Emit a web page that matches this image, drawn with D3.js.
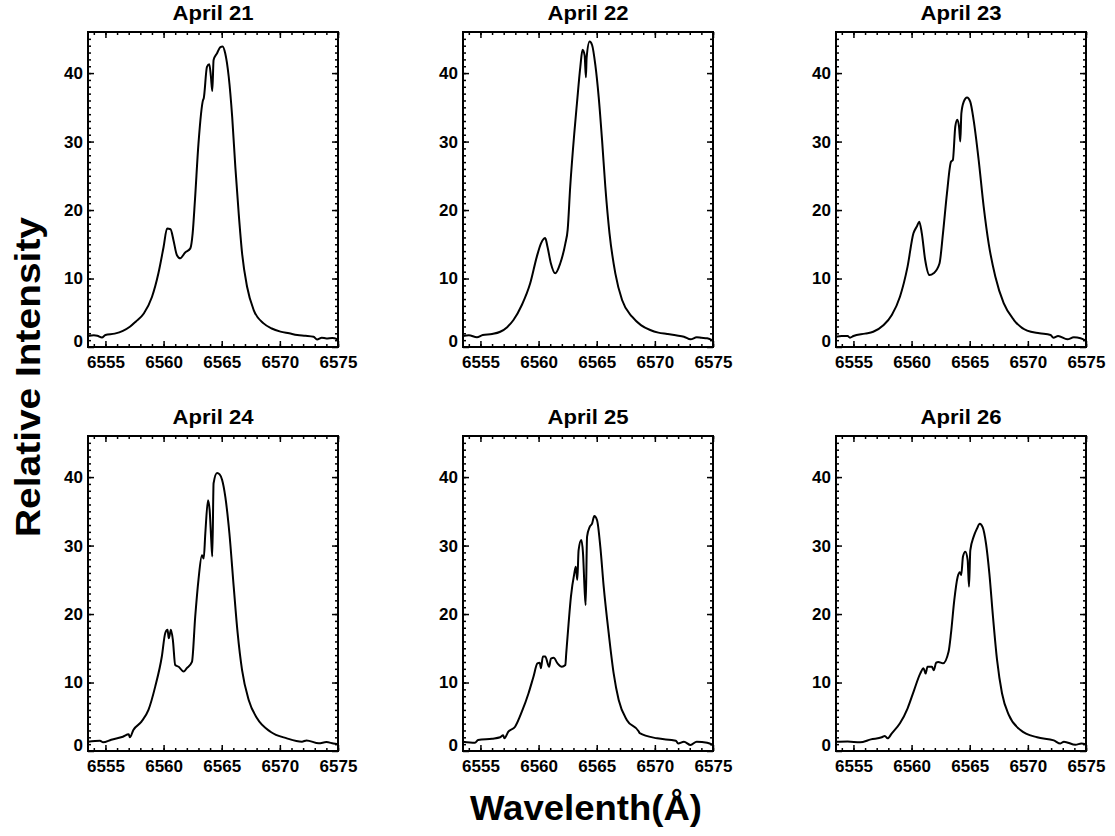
<!DOCTYPE html>
<html>
<head>
<meta charset="utf-8">
<script src="https://cdn.jsdelivr.net/npm/d3@7"></script>
<style>
  body { margin: 0; background: #fff; }
  svg text { font-family: "Liberation Sans", Arial, sans-serif; font-weight: bold; fill: #000; }
</style>
</head>
<body>
<div id="chart"></div>
<script>
// H-alpha profiles, one [wavelength, intensity] list per night
var apr21 = [[6553.5,1.6],[6554.0,1.7],[6554.3,1.65],[6554.7,1.4],[6555.0,1.75],[6555.8,1.95],[6556.5,2.35],
  [6557.1,2.95],[6557.6,3.7],[6558.3,4.9],[6559.0,7.3],[6559.56,10.8],[6560.0,14.6],[6560.3,17.3],[6560.6,17.2],
  [6560.85,15.6],[6561.15,13.4],[6561.43,12.95],[6561.86,13.8],[6562.3,14.4],[6562.5,16.6],[6562.7,21.5],
  [6563.0,29.7],[6563.4,36.1],[6563.45,36.3],[6563.73,40.9],[6563.93,41.3],[6564.07,39.5],[6564.19,37.4],
  [6564.3,41.9],[6564.6,42.9],[6564.88,43.8],[6565.08,43.9],[6565.3,42.9],[6565.6,39.5],[6565.9,33.6],
  [6566.17,26.3],[6566.46,19.5],[6566.75,13.7],[6567.18,8.8],[6567.75,5.4],[6568.6,3.45],[6569.3,2.7],
  [6570.05,2.25],[6570.8,2.0],[6571.5,1.75],[6572.2,1.65],[6572.9,1.5],[6573.2,1.1],[6573.6,1.35],
  [6574.0,1.25],[6574.5,1.3],[6575.0,1.1]];

var apr22 = [[6553.5,1.6],[6554.0,1.7],[6554.7,1.42],[6555.2,1.75],[6556.0,1.9],[6556.7,2.23],[6557.3,2.9],
  [6557.84,3.94],[6558.56,6.13],[6559.28,9.3],[6559.85,13.2],[6560.2,15.1],[6560.45,15.8],[6560.57,15.9],
  [6560.77,14.6],[6561.06,12.2],[6561.43,10.76],[6561.86,12.2],[6562.3,15.1],[6562.5,17.1],[6562.72,23.4],
  [6563.07,31.2],[6563.3,35.6],[6563.59,40.9],[6563.78,43.4],[6563.96,42.6],[6564.07,39.4],[6564.13,42.2],
  [6564.39,44.6],[6564.6,44.1],[6564.88,41.2],[6565.17,36.5],[6565.46,30.2],[6565.74,23.4],[6566.1,16.6],
  [6566.6,10.76],[6567.18,6.86],[6568.04,4.42],[6568.8,3.2],[6569.6,2.48],[6570.3,2.1],[6571.06,1.9],
  [6571.8,1.7],[6572.5,1.5],[6573.07,1.12],[6573.6,1.42],[6574.0,1.35],[6574.5,1.27],[6575.0,0.92]];

var apr23 = [[6553.5,1.5],[6554.0,1.6],[6554.5,1.6],[6554.7,1.36],[6555.0,1.6],[6556.0,1.95],[6556.7,2.23],
  [6557.6,3.2],[6558.3,4.67],[6559.0,7.34],[6559.65,11.7],[6560.16,16.6],[6560.45,17.6],[6560.66,18.3],
  [6560.88,16.6],[6561.17,12.7],[6561.54,10.5],[6561.89,10.76],[6562.4,12.2],[6562.7,16.6],[6563.04,22.4],
  [6563.39,27.05],[6563.55,27.3],[6563.76,32.2],[6563.93,33.2],[6564.08,32.2],[6564.19,30.0],[6564.28,34.1],
  [6564.48,35.8],[6564.77,36.45],[6565.05,35.8],[6565.34,33.1],[6565.77,27.3],[6566.2,20.5],[6566.63,15.1],
  [6567.2,10.3],[6567.92,6.4],[6568.8,3.94],[6569.94,2.38],[6571.0,2.0],[6571.95,1.75],[6572.2,1.36],
  [6572.6,1.6],[6573.4,1.12],[6573.95,1.42],[6574.53,1.27],[6575.0,0.92]];

var apr24 = [[6553.5,1.36],[6554.53,1.5],[6554.8,1.26],[6555.5,1.65],[6556.5,2.09],[6557.0,2.43],[6557.1,2.0],
  [6557.4,3.07],[6558.1,4.28],[6558.7,6.0],[6559.28,9.4],[6559.85,13.8],[6560.14,17.2],[6560.34,17.7],
  [6560.45,16.45],[6560.63,17.7],[6560.8,16.2],[6561.0,12.55],[6561.3,12.3],[6561.72,11.6],[6562.0,12.1],
  [6562.44,13.0],[6562.72,19.6],[6563.0,25.0],[6563.3,28.6],[6563.45,28.1],[6563.59,31.8],[6563.82,36.6],
  [6563.96,35.2],[6564.1,30.8],[6564.19,28.4],[6564.3,39.1],[6564.6,40.6],[6564.82,40.4],[6565.03,39.6],
  [6565.31,37.1],[6565.66,31.8],[6566.03,24.0],[6566.37,17.2],[6566.75,11.8],[6567.32,7.45],[6568.04,4.77],
  [6569.19,2.82],[6570.6,1.85],[6571.9,1.36],[6572.3,1.55],[6573.35,1.12],[6574.0,1.3],[6574.6,1.1],[6575.0,1.0]];

var apr25 = [[6553.5,1.36],[6554.53,1.2],[6554.8,1.6],[6556.0,1.8],[6556.7,2.0],[6556.95,2.3],[6557.06,1.85],
  [6557.4,2.82],[6557.98,3.55],[6558.56,5.74],[6559.13,8.4],[6559.56,10.85],[6559.9,12.8],[6560.1,12.9],
  [6560.2,12.1],[6560.37,13.8],[6560.57,13.8],[6560.91,12.3],[6561.06,13.5],[6561.3,13.6],[6561.63,12.8],
  [6562.0,12.3],[6562.3,12.55],[6562.38,14.3],[6562.58,18.6],[6562.78,22.5],[6563.07,25.9],[6563.2,26.9],
  [6563.33,25.0],[6563.44,29.3],[6563.67,30.8],[6563.82,28.9],[6563.96,23.5],[6564.05,21.3],[6564.17,31.3],
  [6564.39,32.7],[6564.6,33.2],[6564.79,34.3],[6565.03,33.7],[6565.31,29.8],[6565.6,24.0],[6566.03,17.2],
  [6566.46,11.3],[6566.89,7.45],[6567.6,4.5],[6568.6,2.9],[6568.7,2.6],[6570.2,1.85],[6571.8,1.5],
  [6572.0,1.1],[6572.5,1.36],[6573.07,0.88],[6573.6,1.36],[6574.5,1.2],[6575.0,0.88]];

var apr26 = [[6553.5,1.36],[6554.5,1.4],[6555.57,1.26],[6556.5,1.7],[6557.44,2.0],[6557.7,2.2],[6557.94,1.85],
  [6558.3,2.58],[6559.0,4.04],[6559.65,6.2],[6560.22,8.9],[6560.74,11.3],[6561.03,12.1],[6561.2,11.3],
  [6561.37,12.3],[6561.75,12.3],[6561.9,11.8],[6562.12,12.9],[6562.3,13.0],[6562.7,12.8],[6563.18,14.5],
  [6563.39,17.2],[6563.67,22.0],[6563.96,25.4],[6564.15,26.1],[6564.27,25.7],[6564.42,28.4],[6564.62,29.1],
  [6564.82,27.9],[6564.94,24.0],[6565.05,29.3],[6565.34,31.3],[6565.63,32.5],[6565.86,33.2],[6566.11,32.7],
  [6566.4,30.3],[6566.69,25.9],[6567.0,19.6],[6567.35,13.3],[6567.78,8.4],[6568.36,5.26],[6569.36,3.07],
  [6570.8,2.0],[6572.23,1.55],[6572.8,1.1],[6573.1,1.36],[6574.1,0.9],[6574.6,1.1],[6575.0,1.0]];

var titles = ["April 21", "April 22", "April 23", "April 24", "April 25", "April 26"];
var series = [apr21, apr22, apr23, apr24, apr25, apr26];
var xMajor = [6555, 6560, 6565, 6570, 6575];
var yMajor = [0, 10, 20, 30, 40];

var width = 1115, height = 836;
var colLeft = [88, 463, 836];
var rowTop = [32, 436];
var panelW = 250, panelH = 315;

var svg = d3.select("#chart").append("svg")
    .attr("width", width)
    .attr("height", height);

function styleAxis(sel, size) {
    sel.attr("font-size", size).attr("font-family", null);
    sel.selectAll(".domain").remove();
    sel.selectAll(".tick line").attr("stroke", "#000").attr("stroke-width", 1.5);
}

series.forEach(function(data, i) {
    var left = colLeft[i % 3];
    var top = rowTop[Math.floor(i / 3)];

    var x = d3.scaleLinear().domain([6553.5, 6575]).range([0, panelW]);
    var y = d3.scaleLinear().domain([0, 46]).range([panelH, 0]);

    var g = svg.append("g").attr("transform", "translate(" + left + "," + top + ")");

    // minor ticks (every 1 A and every 1 unit), pointing inward
    var xMinor = d3.range(6554, 6576, 1);
    var yMinor = d3.range(1, 46, 1);
    g.append("g").attr("transform", "translate(0," + panelH + ")")
        .call(d3.axisBottom(x).tickValues(xMinor).tickSize(-3).tickFormat(""))
        .call(styleAxis, 17);
    g.append("g")
        .call(d3.axisTop(x).tickValues(xMinor).tickSize(-3).tickFormat(""))
        .call(styleAxis, 17);
    g.append("g")
        .call(d3.axisLeft(y).tickValues(yMinor).tickSize(-3).tickFormat(""))
        .call(styleAxis, 17);
    g.append("g").attr("transform", "translate(" + panelW + ",0)")
        .call(d3.axisRight(y).tickValues(yMinor).tickSize(-3).tickFormat(""))
        .call(styleAxis, 17);

    // major ticks
    g.append("g").attr("transform", "translate(0," + panelH + ")")
        .call(d3.axisBottom(x).tickValues(xMajor).tickSize(-6).tickPadding(9).tickFormat(d3.format("d")))
        .call(styleAxis, 17);
    g.append("g")
        .call(d3.axisTop(x).tickValues(xMajor).tickSize(-6).tickFormat(""))
        .call(styleAxis, 17);
    var yAx = g.append("g")
        .call(d3.axisLeft(y).tickValues(yMajor).tickSize(-6).tickPadding(5).tickFormat(d3.format("d")))
        .call(styleAxis, 17);
    // the "0" label sits just above the bottom frame
    yAx.selectAll(".tick").filter(function(d) { return d === 0; })
        .select("text").attr("transform", "translate(0,-6)");
    g.append("g").attr("transform", "translate(" + panelW + ",0)")
        .call(d3.axisRight(y).tickValues(yMajor).tickSize(-6).tickFormat(""))
        .call(styleAxis, 17);

    // frame
    g.append("rect")
        .attr("width", panelW)
        .attr("height", panelH)
        .attr("fill", "none")
        .attr("stroke", "#000")
        .attr("stroke-width", 2);

    var line = d3.line()
        .curve(d3.curveMonotoneX)
        .x(function(d) { return x(d[0]); })
        .y(function(d) { return y(d[1]); });

    g.append("path")
        .datum(data)
        .attr("d", line)
        .attr("fill", "none")
        .attr("stroke", "#000")
        .attr("stroke-width", 2)
        .attr("stroke-linejoin", "round");

    g.append("text")
        .attr("x", panelW / 2)
        .attr("y", -12)
        .attr("text-anchor", "middle")
        .attr("font-size", 20)
        .attr("textLength", 81)
        .attr("lengthAdjust", "spacingAndGlyphs")
        .text(titles[i]);
});

// shared axis titles
svg.append("text")
    .attr("transform", "translate(40,377) rotate(-90)")
    .attr("text-anchor", "middle")
    .attr("font-size", 35)
    .attr("textLength", 320)
    .attr("lengthAdjust", "spacingAndGlyphs")
    .text("Relative Intensity");

svg.append("text")
    .attr("x", 586)
    .attr("y", 820)
    .attr("text-anchor", "middle")
    .attr("font-size", 35)
    .attr("textLength", 232)
    .attr("lengthAdjust", "spacingAndGlyphs")
    .text("Wavelenth(Å)");
</script>
</body>
</html>
